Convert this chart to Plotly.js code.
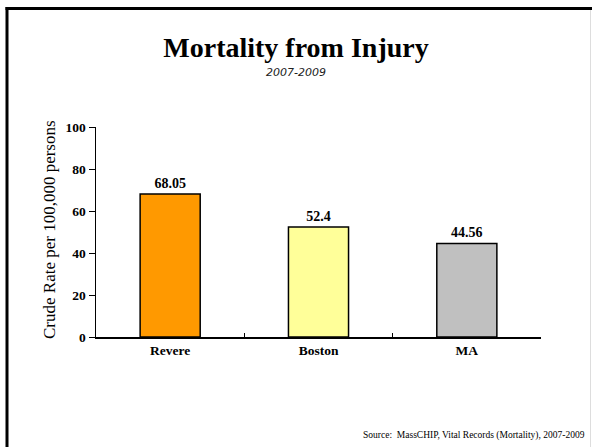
<!DOCTYPE html>
<html>
<head>
<meta charset="utf-8">
<script src="https://cdn.plot.ly/plotly-3.0.1.min.js"></script>
<style>html,body{margin:0;padding:0;background:#fff;}#chart{width:592px;height:447px;}</style>
</head>
<body>
<div id="chart"></div>
<script>
const categories = ["Revere", "Boston", "MA"];
const rates = [68.05, 52.4, 44.56];
const barColors = ["#FF9900", "#FFFF99", "#C0C0C0"];
const yTicks = [0, 20, 40, 60, 80, 100];

const W = 592, H = 447;
const L = 96, R = 541, T = 127, B = 337;
const pw = R - L, ph = B - T;
const px = v => (v - L) / pw;
const py = v => (B - v) / ph;
const serif = "Liberation Serif, Times New Roman, serif";

const trace = {
  type: "bar",
  x: categories,
  y: rates,
  marker: {color: barColors, line: {color: "#000", width: 1.5}},
  width: 0.405,
  text: rates.map(String),
  textposition: "outside",
  cliponaxis: false,
  textfont: {family: serif, size: 14, color: "#000", weight: "bold"},
  hoverinfo: "none"
};

const layout = {
  width: W, height: H,
  margin: {l: L, r: W - R, t: T, b: H - B, pad: 0},
  paper_bgcolor: "#fff", plot_bgcolor: "#fff",
  showlegend: false,
  title: {
    text: "<b>Mortality from Injury</b>",
    font: {family: serif, size: 28, color: "#000"},
    x: 0.5, xanchor: "center", xref: "container",
    y: 1 - 47 / H, yanchor: "middle", yref: "container"
  },
  xaxis: {
    type: "category",
    showline: true, linecolor: "#000", linewidth: 1.5,
    ticks: "inside", ticklen: 4, tickcolor: "#000", tickwidth: 1,
    tickson: "boundaries",
    showgrid: false, zeroline: false,
    tickfont: {family: serif, size: 13.5, color: "#000", weight: "bold"},
    fixedrange: true
  },
  yaxis: {
    range: [0, 100],
    tickvals: yTicks,
    showline: true, linecolor: "#000", linewidth: 1.5,
    ticks: "outside", ticklen: 6, tickcolor: "#000", tickwidth: 1,
    showgrid: false, zeroline: false,
    tickfont: {family: serif, size: 13.5, color: "#000", weight: "bold"},
    fixedrange: true
  },
  annotations: [
    {text: "<i>2007-2009</i>", xref: "paper", yref: "paper", x: px(296), y: py(72),
     xanchor: "center", yanchor: "middle", showarrow: false,
     font: {family: "DejaVu Sans, sans-serif", size: 11, color: "#222"}},
    {text: "Crude Rate per 100,000 persons", xref: "paper", yref: "paper", x: px(49), y: py(230),
     xanchor: "center", yanchor: "middle", textangle: -90, showarrow: false,
     font: {family: serif, size: 17, color: "#000"}},
    {text: "Source:  MassCHIP, Vital Records (Mortality), 2007-2009", xref: "paper", yref: "paper",
     x: px(587), y: py(435), xanchor: "right", yanchor: "middle", showarrow: false,
     font: {family: serif, size: 9.5, color: "#000"}}
  ],
  shapes: [
    {type: "line", xref: "paper", yref: "paper", x0: px(7), x1: px(7), y0: py(7), y1: py(460),
     line: {color: "#000", width: 3}},
    {type: "line", xref: "paper", yref: "paper", x0: px(5.5), x1: px(600), y0: py(8.5), y1: py(8.5),
     line: {color: "#000", width: 3}},
    {type: "line", xref: "paper", yref: "paper", x0: px(590.5), x1: px(590.5), y0: py(10), y1: py(460),
     line: {color: "#ddd", width: 1}}
  ]
};

Plotly.newPlot("chart", [trace], layout, {displayModeBar: false, staticPlot: true});
</script>
</body>
</html>
